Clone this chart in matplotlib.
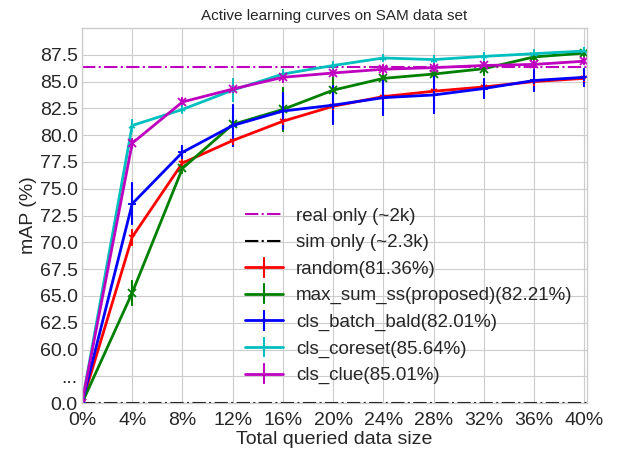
import matplotlib
matplotlib.use("Agg")
import matplotlib.pyplot as plt
import numpy as np

# queried data size (%)
budget = [0, 4, 8, 12, 16, 20, 24, 28, 32, 36, 40]
xtick_labels = ["0%", "4%", "8%", "12%", "16%", "20%", "24%", "28%", "32%", "36%", "40%"]

real_only = 86.4
sim_only = 0.0

random_map = [0.0, 70.5, 77.4, 79.5, 81.3, 82.7, 83.6, 84.1, 84.5, 85.0, 85.3]
random_std = [0.0, 0.7, 0.3, 0.4, 0.6, 0.4, 0.4, 0.4, 0.4, 0.4, 0.4]

max_sum_ss = [0.0, 65.3, 76.9, 81.0, 82.4, 84.2, 85.3, 85.7, 86.2, 87.3, 87.65]
max_sum_ss_std = [0.0, 1.1, 0.4, 0.4, 2.0, 1.3, 1.0, 0.7, 0.6, 0.4, 0.3]

batch_bald = [0.0, 73.6, 78.4, 80.9, 82.25, 82.8, 83.5, 83.75, 84.35, 85.1, 85.4]
batch_bald_std = [0.0, 1.9, 0.55, 1.9, 1.7, 1.75, 1.6, 1.7, 0.9, 1.0, 0.8]

coreset = [0.0, 80.9, 82.4, 84.2, 85.7, 86.5, 87.2, 87.05, 87.35, 87.6, 87.85]
coreset_std = [0.0, 0.5, 0.3, 1.0, 0.4, 0.3, 0.3, 0.3, 0.3, 0.3, 0.3]

clue = [0.0, 79.25, 83.1, 84.3, 85.4, 85.8, 86.15, 86.3, 86.5, 86.6, 86.9]
clue_std = [0.0, 0.4, 0.4, 0.3, 0.4, 0.3, 0.4, 0.3, 0.3, 0.3, 0.3]

methods = ["random(81.36%)", "max_sum_ss(proposed)(82.21%)", "cls_batch_bald(82.01%)",
           "cls_coreset(85.64%)", "cls_clue(85.01%)"]

# broken y axis: everything below the cut is drawn on the bottom line
Y_CUT = 55.0


def squash(v):
    v = np.asarray(v, dtype=float)
    return np.where(v < Y_CUT, Y_CUT, v)


plt.style.use("seaborn-v0_8-whitegrid")
plt.rcParams["font.family"] = ["Liberation Sans", "DejaVu Sans"]
fig = plt.figure(figsize=(6.21, 4.51), dpi=100)
ax = fig.add_axes([0.132, 0.106, 0.813, 0.832])

ax.axhline(real_only, color="m", ls="-.", lw=1.5, label="real only (~2k)")
ax.axhline(float(squash(sim_only)), color="k", ls="-.", lw=1.5, label="sim only (~2.3k)")

series = [random_map, max_sum_ss, batch_bald, coreset, clue]
stds = [random_std, max_sum_ss_std, batch_bald_std, coreset_std, clue_std]
colors = ["r", "g", "b", "c", "m"]
markers = ["1", "x", "+", "2", "x"]
for vals, err, c, mk, lab in zip(series, stds, colors, markers, methods):
    ax.errorbar(budget, squash(vals), yerr=err, color=c, marker=mk, ms=6, mew=1.3,
                lw=2, elinewidth=1.5, capsize=1, label=lab)

ax.set_xlim(0, 40.2)
ax.set_ylim(Y_CUT, 90)
ax.set_xticks(budget)
ax.set_xticklabels(xtick_labels)
yt = [55, 57.5] + list(np.arange(60, 88, 2.5))
ax.set_yticks(yt)
ax.set_yticklabels(["0.0", "..."] + ["%.1f" % t for t in yt[2:]])
ax.tick_params(axis="y", labelsize=14, pad=3)
ax.tick_params(axis="x", labelsize=14, pad=6)
for s in ax.spines.values():
    s.set_visible(True)
    s.set_color("#cccccc")

ax.set_title("Active learning curves on SAM data set", fontsize=11)
ax.set_xlabel("Total queried data size", fontsize=14, labelpad=2)
ax.set_ylabel("mAP (%)", fontsize=14, labelpad=2)
ax.legend(loc="lower right", bbox_to_anchor=(1.005, 0.005), fontsize=13.5, frameon=False,
          handlelength=2.0, handletextpad=0.7, labelspacing=0.5, markerscale=0)

plt.savefig("out.png", dpi=100)
